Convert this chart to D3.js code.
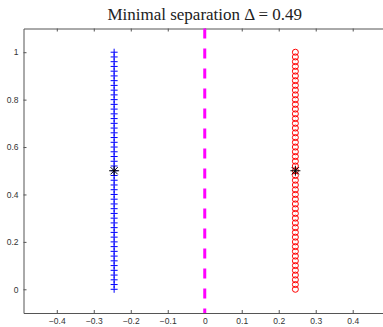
<!DOCTYPE html>
<html>
<head>
<meta charset="utf-8">
<script src="https://cdn.jsdelivr.net/npm/d3@7"></script>
<style>
  body { margin: 0; background: #fff; overflow: hidden; }
  svg { display: block; }
</style>
</head>
<body>
<script>
// values
var xTicks = [-0.4, -0.3, -0.2, -0.1, 0, 0.1, 0.2, 0.3, 0.4]
var yTicks = [0, 0.2, 0.4, 0.6, 0.8, 1]

// blue crosses (left column) and red circles (right column)
var leftX = -0.245
var rightX = 0.245
var columnY = [0, 0.02, 0.04, 0.06, 0.08, 0.1, 0.12, 0.14, 0.16, 0.18,
  0.2, 0.22, 0.24, 0.26, 0.28, 0.3, 0.32, 0.34, 0.36, 0.38,
  0.4, 0.42, 0.44, 0.46, 0.48, 0.5, 0.52, 0.54, 0.56, 0.58,
  0.6, 0.62, 0.64, 0.66, 0.68, 0.7, 0.72, 0.74, 0.76, 0.78,
  0.8, 0.82, 0.84, 0.86, 0.88, 0.9, 0.92, 0.94, 0.96, 0.98, 1]

// black stars
var starX = [-0.245, 0.245]
var starY = [0.5, 0.5]

// dashed line at x = 0
var divider = 0

var width = 383, height = 327
var margin = {top: 28.5, right: -3, bottom: 14, left: 23.5}

var svg = d3.select("body").append("svg")
    .attr("width", width)
    .attr("height", height)

var xScale = d3.scaleLinear()
    .domain([-0.49, 0.49])
    .range([margin.left, width - margin.right])

var yScale = d3.scaleLinear()
    .domain([-0.1, 1.1])
    .range([height - margin.bottom, margin.top])

var axisColor = "#555"

// title
svg.append("text")
    .attr("x", xScale(0))
    .attr("y", 20)
    .attr("text-anchor", "middle")
    .attr("font-family", "'Liberation Serif', serif")
    .attr("font-size", 17)
    .attr("fill", "#222")
    .text("Minimal separation \u0394 = 0.49")

// axes (ticks inside, MATLAB style)
var xAxis = svg.append("g")
    .attr("transform", "translate(0," + yScale(-0.1) + ")")
    .call(d3.axisBottom(xScale).tickValues(xTicks).tickSizeInner(-3).tickSizeOuter(0).tickPadding(5)
        .tickFormat(d => d === 0 ? "0" : d3.format(".1f")(d)))

var xTop = svg.append("g")
    .attr("transform", "translate(0," + yScale(1.1) + ")")
    .call(d3.axisTop(xScale).tickValues(xTicks).tickSizeInner(-3).tickSizeOuter(0).tickFormat(""))

var yAxis = svg.append("g")
    .attr("transform", "translate(" + xScale(-0.49) + ",0)")
    .call(d3.axisLeft(yScale).tickValues(yTicks).tickSizeInner(-3).tickSizeOuter(0).tickPadding(5)
        .tickFormat(d => d === 0 || d === 1 ? String(d) : d3.format(".1f")(d)))

var yRight = svg.append("g")
    .attr("transform", "translate(" + xScale(0.49) + ",0)")
    .call(d3.axisRight(yScale).tickValues(yTicks).tickSizeInner(-3).tickSizeOuter(0).tickFormat(""))

svg.selectAll(".domain, .tick line").attr("stroke", axisColor)
svg.selectAll(".tick text")
    .attr("font-family", "'Liberation Sans', Arial, sans-serif")
    .attr("font-size", 8.5)
    .attr("fill", "#333")

// magenta dashed line
svg.append("line")
    .attr("x1", xScale(divider)).attr("x2", xScale(divider))
    .attr("y1", yScale(1.1)).attr("y2", yScale(-0.1))
    .attr("stroke", "#ff00ff")
    .attr("stroke-width", 3)
    .attr("stroke-dasharray", "10,10")

// blue plus markers
var plus = svg.append("g").attr("stroke", "#0000ff").attr("stroke-width", 1)
plus.selectAll("path")
    .data(columnY)
    .join("path")
    .attr("d", d => {
        var cx = xScale(leftX), cy = yScale(d), r = 3.5
        return "M" + (cx - r) + "," + cy + "H" + (cx + r) + "M" + cx + "," + (cy - r) + "V" + (cy + r)
    })

// red circle markers
svg.append("g")
    .selectAll("circle")
    .data(columnY)
    .join("circle")
    .attr("cx", xScale(rightX))
    .attr("cy", d => yScale(d))
    .attr("r", 3)
    .attr("fill", "none")
    .attr("stroke", "#ff0000")
    .attr("stroke-width", 1)

// black star markers
var stars = svg.append("g").attr("stroke", "#000").attr("stroke-width", 1)
stars.selectAll("path")
    .data(starX)
    .join("path")
    .attr("d", (d, i) => {
        var cx = xScale(d), cy = yScale(starY[i]), r = 5, q = 3.6
        return "M" + (cx - r) + "," + cy + "H" + (cx + r) +
            "M" + cx + "," + (cy - r) + "V" + (cy + r) +
            "M" + (cx - q) + "," + (cy - q) + "L" + (cx + q) + "," + (cy + q) +
            "M" + (cx - q) + "," + (cy + q) + "L" + (cx + q) + "," + (cy - q)
    })
</script>
</body>
</html>
